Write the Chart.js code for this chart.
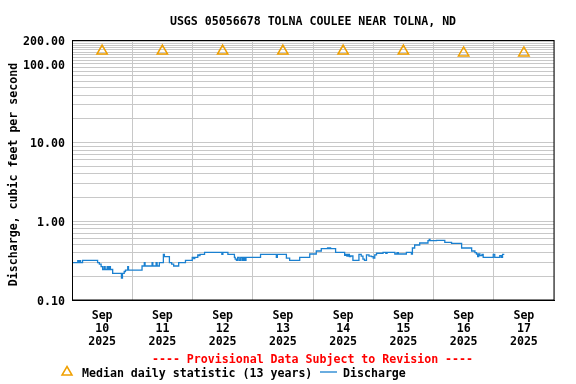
<!DOCTYPE html>
<html><head><meta charset="utf-8">
<style>html,body{margin:0;padding:0;background:#fff}#wrap{width:576px;height:384px;position:relative}</style>
<script src="https://cdn.jsdelivr.net/npm/chart.js@4/dist/chart.umd.min.js"></script>
</head><body><div id="wrap"><canvas id="c" width="576" height="384"></canvas></div>
<script>
const titleText = 'USGS 05056678 TOLNA COULEE NEAR TOLNA, ND';
const yAxisTitle = 'Discharge, cubic feet per second';
const footerText = '---- Provisional Data Subject to Revision ----';
const legendMedian = 'Median daily statistic (13 years)';
const legendDischarge = 'Discharge';
const tickMonth = 'Sep';
const tickDays = ['10','11','12','13','14','15','16','17'];
const tickYear = '2025';
const yLabelValues = [0.1, 1, 10, 100, 200];

// hours since Sep 10 2025 00:00
const medianHours = [12, 36, 60, 84, 108, 132, 156, 180];
const medianValues = [145, 145, 145, 145, 145, 145, 137, 137];

const dischargeHours = [
  0, 2.3, 2.7, 3.0, 3.4, 4.2, 10.2, 10.9, 11.6, 12.2, 12.8, 13.2, 14.0, 14.4, 14.9, 15.3,
  16.2, 19.7, 20.1, 20.8, 21.3, 22.2, 22.5, 27.9, 28.8, 29.1, 31.9, 32.2, 33.5, 33.9,
  34.8, 36.4, 36.8, 38.8, 39.7, 40.5, 42.5, 45.2, 47.9, 48.5, 48.9, 50.1, 50.5, 51.0,
  52.8, 59.7, 60.1, 62.1, 64.7, 65.0, 65.5, 66.0, 66.6, 67.2, 67.8, 68.3, 68.8, 69.3,
  75.1, 81.4, 81.8, 85.4, 86.7, 90.7, 94.7, 97.3, 99.3, 101.8, 102.2, 102.6, 103.0,
  105.0, 108.6, 109.0, 109.5, 110.0, 110.5, 111.0, 111.9, 114.3, 115.2, 115.9, 116.5,
  117.3, 118.3, 119.3, 120.0, 120.6, 121.3, 123.9, 125.0, 125.5, 128.6, 129.5, 130.0,
  133.2, 135.2, 135.6, 136.5, 138.5, 141.8, 142.3, 142.6, 145.2, 148.5, 151.2, 155.2,
  159.2, 160.5, 161.1, 161.6, 162.0, 162.5, 163.3, 163.8, 167.8, 168.4, 170.4, 171.0,
  171.5, 172.2
];
const dischargeValues = [
  0.298, 0.315, 0.298, 0.315, 0.298, 0.319, 0.298, 0.285, 0.265, 0.244, 0.265, 0.244, 0.265, 0.244, 0.265, 0.244,
  0.218, 0.189, 0.218, 0.230, 0.240, 0.265, 0.240, 0.270, 0.298, 0.270, 0.298, 0.270, 0.298, 0.270,
  0.298, 0.380, 0.355, 0.298, 0.285, 0.270, 0.298, 0.319, 0.348, 0.335, 0.348, 0.375, 0.365, 0.380,
  0.403, 0.380, 0.403, 0.380, 0.348, 0.330, 0.319, 0.348, 0.319, 0.348, 0.319, 0.348, 0.319, 0.348,
  0.380, 0.348, 0.380, 0.340, 0.319, 0.348, 0.384, 0.419, 0.448, 0.460, 0.448, 0.460, 0.448,
  0.403, 0.370, 0.380, 0.362, 0.380, 0.355, 0.362, 0.319, 0.380, 0.360, 0.330, 0.319,
  0.375, 0.360, 0.355, 0.340, 0.375, 0.392, 0.403, 0.390, 0.403, 0.384, 0.400, 0.384,
  0.403, 0.384, 0.457, 0.499, 0.529, 0.566, 0.590, 0.566, 0.573, 0.540, 0.525, 0.457,
  0.419, 0.400, 0.384, 0.355, 0.384, 0.365, 0.380, 0.348, 0.380, 0.348, 0.365, 0.348,
  0.380, 0.380
];

const FONT = 'DejaVu Sans Mono';
const FSIZE = 11.6;
const gridColor = '#c8c8c8';
const medianColor = '#f0a000';
const dischargeColor = '#1a80d0';

function yGridValues() {
  const out = [];
  [0.1, 1, 10].forEach(d => { for (let m = 1; m <= 9; m++) out.push(Number((m * d).toFixed(4))); });
  for (let v = 100; v <= 200; v += 10) out.push(v);
  return out;
}

const decorPlugin = {
  id: 'decor',
  afterDraw(chart) {
    const ctx = chart.ctx, a = chart.chartArea;
    ctx.save();
    ctx.strokeStyle = '#000'; ctx.lineWidth = 1;
    ctx.strokeRect(Math.round(a.left) + 0.5, Math.round(a.top) + 0.5,
      Math.round(a.right - a.left) - 1 + 0.5, Math.round(a.bottom - a.top) - 0.5);
    ctx.font = 'bold ' + FSIZE + 'px "' + FONT + '"';
    ctx.fillStyle = '#000';
    ctx.textAlign = 'center'; ctx.textBaseline = 'middle';
    ctx.fillText(titleText, (a.left + a.right) / 2, 21.5);
    ctx.save();
    ctx.translate(13.5, 174.5); ctx.rotate(-Math.PI / 2);
    ctx.fillText(yAxisTitle, 0, 0);
    ctx.restore();
    ctx.fillStyle = '#ff0000';
    ctx.fillText(footerText, 312.5, 360);
    // legend
    ctx.strokeStyle = medianColor; ctx.lineWidth = 1.5;
    ctx.beginPath(); ctx.moveTo(67, 366.5); ctx.lineTo(72, 375); ctx.lineTo(62, 375); ctx.closePath(); ctx.stroke();
    ctx.fillStyle = '#000'; ctx.textAlign = 'left';
    ctx.fillText(legendMedian, 82, 373.5);
    ctx.strokeStyle = dischargeColor; ctx.lineWidth = 1.3;
    ctx.beginPath(); ctx.moveTo(320, 372); ctx.lineTo(337, 372); ctx.stroke();
    ctx.fillText(legendDischarge, 343, 373.5);
    ctx.restore();
  }
};

new Chart(document.getElementById('c'), {
  type: 'line',
  data: {
    datasets: [
      {
        label: legendMedian,
        data: medianHours.map((h, i) => ({ x: h, y: medianValues[i] })),
        showLine: false,
        pointStyle: 'triangle',
        pointRadius: 6,
        pointBorderWidth: 1.5,
        pointBorderColor: medianColor,
        pointBackgroundColor: 'rgba(0,0,0,0)',
        borderColor: medianColor
      },
      {
        label: legendDischarge,
        data: dischargeHours.map((h, i) => ({ x: h, y: dischargeValues[i] })),
        stepped: true,
        borderColor: dischargeColor,
        borderWidth: 1.3,
        pointRadius: 0,
        fill: false
      }
    ]
  },
  options: {
    responsive: false,
    animation: false,
    devicePixelRatio: 1,
    layout: { padding: { top: 40, right: 22, left: 0, bottom: 0 } },
    plugins: { legend: { display: false }, title: { display: false }, tooltip: { enabled: false } },
    scales: {
      x: {
        type: 'linear', min: 0, max: 192,
        afterFit: s => { s.height = 84; },
        ticks: {
          stepSize: 12, autoSkip: false, maxRotation: 0, minRotation: 0,
          color: '#000', padding: 9,
          font: { family: FONT, size: FSIZE, weight: 'bold', lineHeight: 13 / FSIZE },
          callback: v => {
            if ((v - 12) % 24 === 0) { const i = (v - 12) / 24; return [tickMonth, tickDays[i], tickYear]; }
            return '';
          }
        },
        grid: {
          drawTicks: false,
          color: c => (c.tick && c.tick.value % 24 === 0) ? gridColor : 'rgba(0,0,0,0)',
          lineWidth: 1
        },
        border: { color: '#000', width: 1 }
      },
      y: {
        type: 'logarithmic', min: 0.1, max: 200,
        afterFit: s => { s.width = 72; },
        afterBuildTicks: s => { s.ticks = yGridValues().map(v => ({ value: v })); },
        ticks: {
          autoSkip: false, color: '#000', padding: 7, labelOffset: 2,
          font: { family: FONT, size: FSIZE, weight: 'bold' },
          callback: v => yLabelValues.includes(v) ? v.toFixed(2) : ''
        },
        grid: { drawTicks: false, color: gridColor, lineWidth: 1 },
        border: { color: '#000', width: 1 }
      }
    }
  },
  plugins: [decorPlugin]
});
</script></body></html>
